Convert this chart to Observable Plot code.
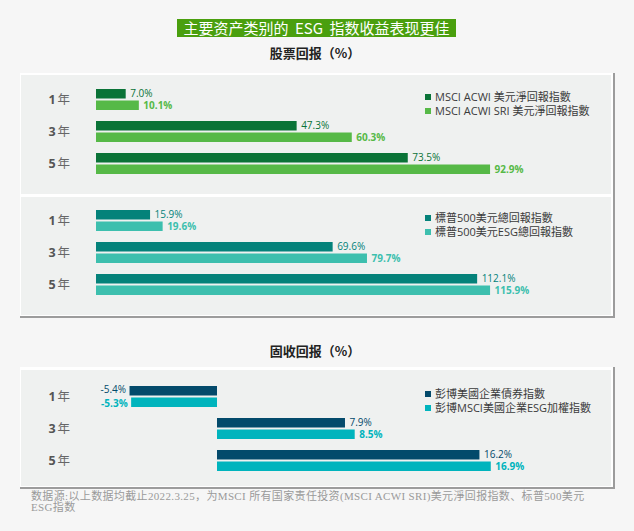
<!DOCTYPE html>
<html><head><meta charset="utf-8">
<script src="https://cdn.jsdelivr.net/npm/d3@7"></script>
<script src="https://cdn.jsdelivr.net/npm/@observablehq/plot@0.6"></script>
<style>
html,body{margin:0;padding:0;}
body{background:#f6f6f6;width:634px;height:531px;position:relative;overflow:hidden;font-family:"Noto Sans CJK SC","Open Sans",sans-serif;}
.title{position:absolute;left:177px;top:19px;width:279px;height:18px;background:#4a9f0e;color:#fff;font-size:15px;line-height:18px;text-align:center;white-space:nowrap;word-spacing:3px;}
.sub{position:absolute;left:0;width:630px;text-align:center;font-size:13px;font-weight:bold;color:#222;line-height:16px;}
.box{position:absolute;left:20px;background:#fff;padding:2px 2px 1px 1px;border-right:2px solid #9c9c9c;border-bottom:2px solid #9c9c9c;}
.panel{position:relative;background:#eff1f0;width:590px;}
.panel svg{display:block;}
.legend{position:absolute;left:404px;font-family:"Open Sans","Noto Sans CJK TC",sans-serif;font-size:11px;color:#3a3a3a;white-space:nowrap;}
.legend div{height:14px;line-height:14px;display:flex;align-items:center;}
.legend span.sw{display:inline-block;width:6px;height:6px;margin-right:4px;}
.foot{position:absolute;left:31px;top:491px;font-family:"Liberation Serif","Noto Sans CJK SC",serif;font-size:11px;line-height:11px;color:#9a9a9a;white-space:nowrap;letter-spacing:0.35px;}
</style></head>
<body>
<div class="title">主要资产类别的 ESG 指数收益表现更佳</div>
<div class="sub" style="top:45px">股票回报（%）</div>
<div class="box" style="top:73px"><div class="panel" id="p1" style="height:119px;margin-bottom:3px"></div><div class="panel" id="p2" style="height:118px"></div></div>
<div class="sub" style="top:343px">固收回报（%）</div>
<div class="box" style="top:367px;padding-top:3px"><div class="panel" id="p3" style="height:116px"></div></div>
<div class="foot">数据源:以上数据均截止2022.3.25，为MSCI 所有国家责任投资(MSCI ACWI SRI)美元淨回报指数、标普500美元<br>ESG指数</div>
<script>
const years = ["1年", "3年", "5年"];

const acwiNames = ["MSCI ACWI 美元淨回報指數", "MSCI ACWI SRI 美元淨回報指數"];
const acwiBase = [7.0, 47.3, 73.5];
const acwiSri = [10.1, 60.3, 92.9];

const spNames = ["標普500美元總回報指數", "標普500美元ESG總回報指數"];
const spBase = [15.9, 69.6, 112.1];
const spEsg = [19.6, 79.7, 115.9];

const bondNames = ["彭博美國企業債券指數", "彭博MSCI美國企業ESG加權指數"];
const bondBase = [-5.4, 7.9, 16.2];
const bondEsg = [-5.3, 8.5, 16.9];

const fmt = v => v.toFixed(1) + "%";

function panel(el, cfg) {
  const rows = years.map((y, i) => ({year: y, a: cfg.a[i], b: cfg.b[i]}));
  const lab = (key, color, dy, weight, positive) => Plot.text(rows, {
    filter: d => positive ? d[key] >= 0 : d[key] < 0,
    x: key, y: "year", dy, dx: positive ? 4 : -4,
    textAnchor: positive ? "start" : "end",
    text: d => fmt(d[key]), fill: color, fontSize: 10, fontWeight: weight
  });
  const chart = Plot.plot({
    width: 590, height: cfg.height,
    marginLeft: 0, marginRight: 0, marginTop: cfg.mt, marginBottom: cfg.mb,
    x: {domain: cfg.xDomain, range: cfg.xRange, axis: null},
    y: {domain: years, padding: 0.34, axis: null},
    style: {background: "transparent", fontFamily: "'Open Sans','Noto Sans CJK SC',sans-serif", overflow: "visible"},
    marks: [
      Plot.barX(rows, {x: "a", y: "year", fill: cfg.colors[0], insetBottom: 11.5}),
      Plot.barX(rows, {x: "b", y: "year", fill: cfg.colors[1], insetTop: 11.5}),
      lab("a", cfg.colors[0], -6, "normal", true),
      lab("a", cfg.colors[0], -6.8, "normal", false),
      lab("b", cfg.colors[1], 6, "bold", true),
      lab("b", cfg.colors[1], 6.8, "bold", false),
      Plot.text(years, {y: d => d, text: d => d.replace("年", ""), frameAnchor: "left", dx: 27, textAnchor: "start", fill: "#555", fontSize: 12.5, fontWeight: "bold"}),
      Plot.text(years, {y: d => d, text: () => "年", frameAnchor: "left", dx: 36, textAnchor: "start", fill: "#666", fontSize: 12.5, fontFamily: "'Noto Sans CJK SC',sans-serif"})
    ]
  });
  el.appendChild(chart);
  const lg = document.createElement("div");
  lg.className = "legend";
  lg.style.top = cfg.legendTop + "px";
  cfg.names.forEach((n, i) => {
    const row = document.createElement("div");
    const sw = document.createElement("span");
    sw.className = "sw"; sw.style.background = cfg.colors[i];
    row.appendChild(sw);
    row.appendChild(document.createTextNode(n));
    lg.appendChild(row);
  });
  el.appendChild(lg);
}

panel(document.getElementById("p1"), {
  a: acwiBase, b: acwiSri, names: acwiNames, colors: ["#0a7337", "#56b947"],
  xDomain: [0, 120], xRange: [75, 584], height: 119, mt: 2, mb: 7.8, legendTop: 15
});
panel(document.getElementById("p2"), {
  a: spBase, b: spEsg, names: spNames, colors: ["#04827a", "#3dbfae"],
  xDomain: [0, 150], xRange: [75, 585], height: 118, mt: 1, mb: 7.8, legendTop: 14
});
panel(document.getElementById("p3"), {
  a: bondBase, b: bondEsg, names: bondNames, colors: ["#034a6b", "#00b4bd"],
  xDomain: [-10, 20], xRange: [34, 520], height: 116, mt: 4, mb: 2.8, legendTop: 17
});
</script>
</body></html>
